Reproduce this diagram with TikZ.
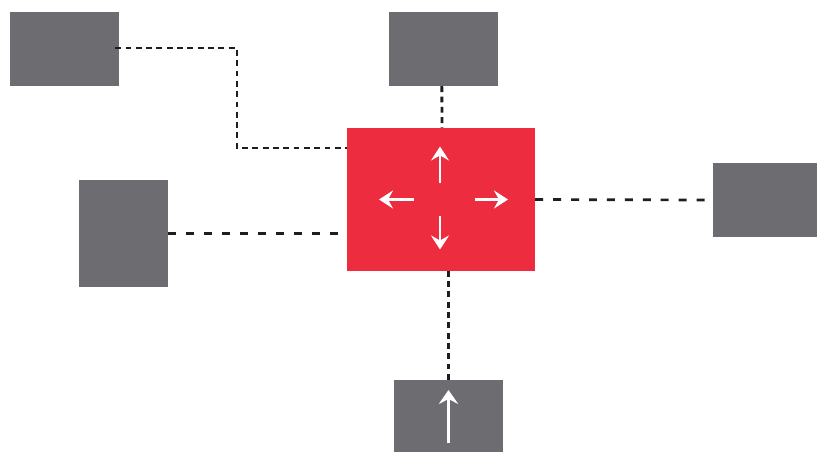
\documentclass[tikz,border=0pt]{standalone}
\usepackage{tikz}
\usetikzlibrary{arrows.meta}
\definecolor{hostgray}{RGB}{108, 108, 113}
\definecolor{hubred}{RGB}{238, 44, 64}
\definecolor{linkink}{RGB}{30, 30, 32}

\begin{document}
\begin{tikzpicture}[x=0.03cm, y=-0.03cm,
  host/.style={fill=hostgray, inner sep=0pt},
  hub/.style={fill=hubred, inner sep=0pt, minimum width=5.64cm, minimum height=4.29cm},
  longlink/.style={linkink, line width=2.3pt, dash pattern=on 6.8pt off 8.5pt},
  shortlink/.style={linkink, line width=2.4pt, dash pattern=on 5pt off 3.8pt},
  flow/.style={white, line width=2.5pt, -{Stealth[length=0.42cm, width=0.54cm, inset=0.15cm]}},
  inflow/.style={white, line width=2pt, -{Stealth[length=0.42cm, width=0.58cm, inset=0.15cm]}}]
  \useasboundingbox (0,0) rectangle (817,452);
  % hosts round the switch
  \node[host, minimum width=3.27cm, minimum height=2.22cm] (tl) at (64.5,49) {};
  \node[host, minimum width=3.27cm, minimum height=2.22cm] (tc) at (443.5,49) {};
  \node[host, minimum width=2.67cm, minimum height=3.21cm] (lf) at (123.5,233.5) {};
  \node[host, minimum width=3.12cm, minimum height=2.22cm] (rt) at (765,200) {};
  \node[host, minimum width=3.27cm, minimum height=2.16cm] (bt) at (448.5,416) {};
  \node[hub] (sw) at (441,199.5) {};
  % links
  \coordinate (bend) at (237,148);
  \draw[shortlink] ([xshift=-0.12cm, yshift=0.03cm]tl.east) -| (bend) -- (bend -| sw.west);
  \draw[shortlink] ([xshift=-0.05cm]tc.south) -- ([xshift=0.03cm]sw.north);
  \draw[longlink] (sw.east) -- (rt.west);
  \draw[longlink] (lf.east) -- (lf.east -| sw.west);
  \draw[shortlink] (bt.north) -- (bt.north |- sw.south);
  % arrows in the switch
  \draw[flow] (sw.center) ++(-1,-17) -- ++(0,-36);
  \draw[flow] (sw.center) ++(-1,16) -- ++(0,34);
  \draw[flow] (sw.center) ++(-27,0) -- ++(-35,0);
  \draw[flow] (sw.center) ++(34,0) -- ++(33,0);
  \draw[inflow] ([yshift=-0.81cm]bt.center) -- ([yshift=0.78cm]bt.center);
\end{tikzpicture}
\end{document}
